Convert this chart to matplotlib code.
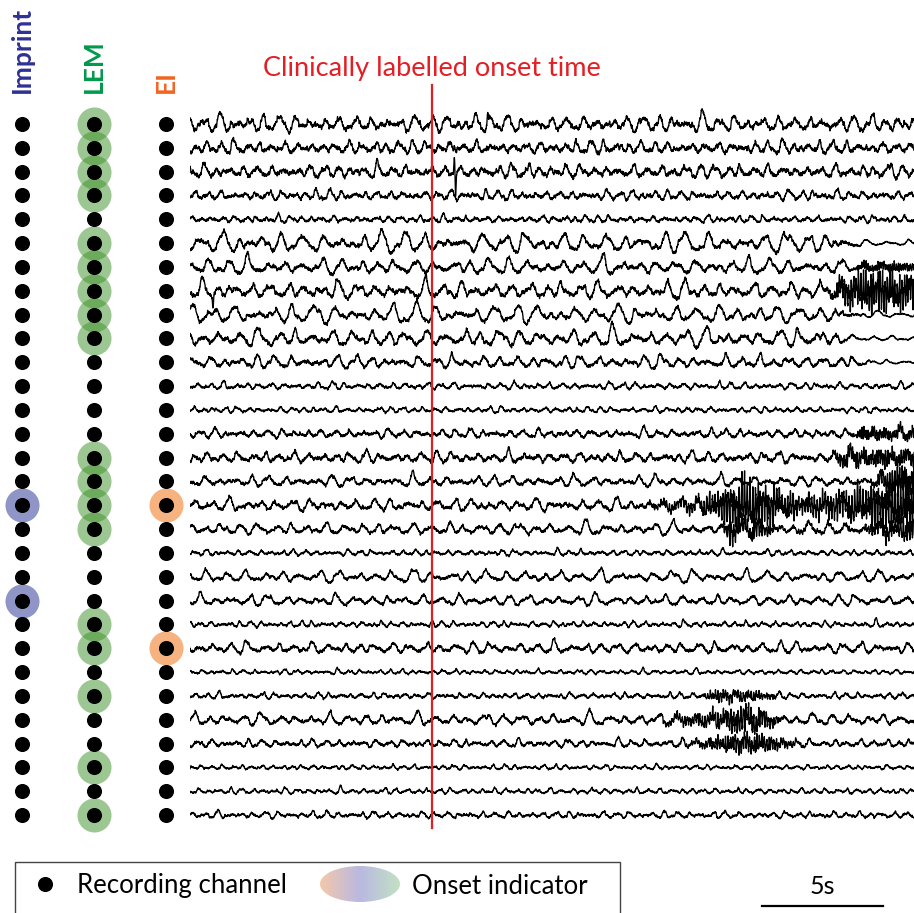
import numpy as np
import matplotlib
matplotlib.use("Agg")
import matplotlib.pyplot as plt
from matplotlib.patches import Ellipse, Rectangle

plt.rcParams['font.family'] = ['Lato', 'DejaVu Sans']

# ---------------- data ----------------
n_channels = 30
method_names = ["Imprint", "LEM", "EI"]
method_colors = ["#2e3192", "#00994a", "#f26522"]
imprint_onset = [16, 20]
lem_onset = [0, 1, 2, 3, 5, 6, 7, 8, 9, 14, 15, 16, 17, 21, 22, 24, 27, 29]
ei_onset = [16, 22]
onset_time = 10.0          # s, clinically labelled onset
duration = 30.0            # s
scale_bar_len = 5          # s
scale_bar_label = "5s"
title_text = "Clinically labelled onset time"
legend_labels = ["Recording channel", "Onset indicator"]

# per-channel background amplitude (row units, std), dominant freq (Hz), jaggedness
chan_amp = [0.17, 0.13, 0.13, 0.10, 0.07, 0.20, 0.16, 0.17, 0.19, 0.17,
            0.13, 0.07, 0.06, 0.09, 0.11, 0.11, 0.12, 0.12, 0.06, 0.12,
            0.11, 0.06, 0.11, 0.05, 0.06, 0.12, 0.08, 0.05, 0.06, 0.07]
chan_freq = [1.6, 1.9, 1.8, 2.0, 2.2, 1.2, 1.3, 1.4, 1.2, 1.3,
             1.5, 2.0, 2.2, 1.8, 1.7, 1.5, 1.5, 1.4, 2.2, 1.3,
             1.4, 2.4, 1.5, 2.3, 2.2, 1.4, 1.9, 2.4, 2.2, 2.0]
chan_jag = [0.25, 0.32, 0.32, 0.32, 0.35, 0.18, 0.22, 0.25, 0.18, 0.22,
            0.25, 0.32, 0.32, 0.32, 0.32, 0.28, 0.28, 0.25, 0.35, 0.22,
            0.25, 0.35, 0.28, 0.35, 0.35, 0.25, 0.32, 0.35, 0.32, 0.32]
# time at which slow background activity attenuates (0 = never)
chan_fade = [0, 0, 0, 0, 0, 26.9, 26.8, 0, 26.9, 26.6,
             27.3, 0, 0, 0, 0, 0, 0, 0, 0, 0,
             0, 0, 0, 0, 0, 0, 0, 0, 0, 0]

# ictal bursts: channel, frequency (Hz), envelope knots (s) and amplitudes (rows)
burst_channel = [16, 17, 15, 14, 13, 7, 6, 24, 25, 26]
burst_freq = [9.0, 9.0, 10.0, 11.0, 12.0, 10.0, 12.0, 9.5, 9.5, 10.0]
burst_env_t = [
    [18.5, 19.5, 21.0, 22.0, 22.8, 24.0, 25.2, 27.0, 29.0, 30.0],
    [21.8, 22.4, 23.5, 24.2, 27.8, 28.8, 30.0],
    [28.0, 28.8, 30.0],
    [26.3, 27.0, 30.0],
    [27.2, 27.8, 30.0],
    [26.3, 27.0, 28.0, 30.0],
    [27.3, 27.9, 30.0],
    [21.0, 21.8, 23.0, 24.3, 24.8],
    [19.0, 20.0, 21.5, 22.6, 23.8, 24.6],
    [20.0, 21.0, 22.3, 23.5, 24.8, 25.5],
]
burst_env_a = [
    [0.0, 0.12, 0.2, 0.55, 0.85, 0.6, 0.3, 0.45, 0.8, 0.9],
    [0.0, 0.35, 0.3, 0.05, 0.05, 0.3, 0.35],
    [0.0, 0.35, 0.45],
    [0.0, 0.25, 0.25],
    [0.0, 0.18, 0.18],
    [0.0, 0.45, 0.6, 0.6],
    [0.0, 0.14, 0.14],
    [0.0, 0.2, 0.2, 0.05, 0.0],
    [0.0, 0.1, 0.25, 0.42, 0.28, 0.0],
    [0.0, 0.08, 0.26, 0.28, 0.12, 0.0],
]
# transient spikes: channel, time (s), amplitude (rows, + = up)
spike_channel = [2, 2, 1, 7, 0]
spike_time = [10.93, 10.97, 10.93, 0.95, 12.3]
spike_amp = [0.8, -1.15, 0.25, -0.45, 0.3]

# ---------------- signal synthesis ----------------
fs = 250
t = np.arange(0, duration, 1.0 / fs)
LOW_MULT = [0.53, 0.79, 1.0, 1.41, 1.93, 2.71, 3.6]
LOW_W = [0.3, 0.55, 1.0, 0.5, 0.35, 0.2, 0.12]
HF_FREQS = [7.3, 9.7, 12.9, 16.1, 21.7, 27.3, 33.1, 41.9, 53.3]


def frac(x):
    return x - np.floor(x)


def hf_noise(i, shift):
    h = np.zeros_like(t)
    for k, f in enumerate(HF_FREQS):
        ph = 2 * np.pi * frac(0.7548776662 * (i + 1 + shift) * (k + 1) + 0.5698 * k * k)
        h += np.sin(2 * np.pi * f * (1 + 0.013 * ((i + shift) % 7)) * t + ph) / (1 + 0.08 * k)
    return h / h.std()


def channel_signal(i):
    f0 = chan_freq[i]
    s = np.zeros_like(t)
    for k, (m, w) in enumerate(zip(LOW_MULT, LOW_W)):
        ph = 2 * np.pi * frac(0.6180339887 * (i + 1) * (k + 2) + 0.7071 * k * k)
        s += w * np.sin(2 * np.pi * f0 * m * t + ph)
    s *= 1 + 0.25 * np.sin(2 * np.pi * (0.11 + 0.013 * i) * t + i)
    s = s / s.std()
    s = s + 0.1 * s ** 2
    s = s - s.mean()
    sig = s + chan_jag[i] * hf_noise(i, 0)
    if chan_fade[i] > 0:
        env = np.clip(1 - (t - chan_fade[i]) / 1.5, 0.3, 1.0)
        sig = sig * env
    sig = sig / sig[: int(fs * 20)].std() * chan_amp[i]
    for ch, f, kt, ka in zip(burst_channel, burst_freq, burst_env_t, burst_env_a):
        if ch == i:
            env = np.interp(t, kt, ka, left=0.0, right=ka[-1])
            b = (0.75 * np.sin(2 * np.pi * f * t) +
                 0.3 * np.sin(2 * np.pi * 1.93 * f * t + 1.0) +
                 0.3 * hf_noise(i, 11))
            sig = sig + env * b
    for ch, ts, a in zip(spike_channel, spike_time, spike_amp):
        if ch == i:
            sig = sig + a * np.exp(-0.5 * ((t - ts) / 0.02) ** 2)
    return sig


# ---------------- figure layout ----------------
W, H = 914, 913
fig = plt.figure(figsize=(W / 100, H / 100), dpi=100)
row0_px, row_step_px = 124.0, 23.83
ylim = ((H - row0_px) / row_step_px, -row0_px / row_step_px)
trace_x0_px = 190.0
px_per_s = 24.2

# indicator columns
ax_l = fig.add_axes([0, 0, trace_x0_px / W, 1])
col_px = [22, 94, 166]
col_step = 72.0
ax_l.set_xlim(-col_px[0] / col_step, (trace_x0_px - col_px[0]) / col_step)
ax_l.set_ylim(*ylim)
ax_l.axis("off")
rows = np.arange(n_channels)
onsets = [imprint_onset, lem_onset, ei_onset]
halo_colors = [(0.56, 0.59, 0.78, 1.0), (0.23, 0.57, 0.15, 0.5), (0.965, 0.70, 0.50, 1.0)]
for c, (name, col, ons, hc) in enumerate(zip(method_names, method_colors, onsets, halo_colors)):
    ax_l.scatter(np.full(len(ons), c), ons, s=600, color=hc, lw=0, zorder=1, clip_on=False)
    ax_l.scatter(np.full(n_channels, c), rows, s=118, color="black", lw=0, zorder=2, clip_on=False)
    ax_l.text(c, (93 - row0_px) / row_step_px, name, rotation=90, ha="center", va="bottom",
              color=col, fontsize=19, fontweight="bold")

# traces
ax_t = fig.add_axes([trace_x0_px / W, 0, 1 - trace_x0_px / W, 1])
ax_t.set_xlim(0, (W - trace_x0_px) / px_per_s)
ax_t.set_ylim(*ylim)
ax_t.axis("off")
for i in range(n_channels):
    ax_t.plot(t, i - channel_signal(i), color="black", lw=0.95, zorder=2)

red = "#e31e24"
ax_t.plot([onset_time, onset_time], [(85 - row0_px) / row_step_px, (828 - row0_px) / row_step_px],
          color=red, lw=1.6, zorder=3)
ax_t.text(onset_time, (68 - row0_px) / row_step_px, title_text, ha="center", va="center",
          color=red, fontsize=19.5)

# scale bar
sb_x0 = (762 - trace_x0_px) / px_per_s
ax_t.plot([sb_x0, sb_x0 + scale_bar_len], [(906 - row0_px) / row_step_px] * 2,
          color="black", lw=1.6, clip_on=False)
ax_t.text(sb_x0 + scale_bar_len / 2, (886 - row0_px) / row_step_px, scale_bar_label,
          ha="center", va="center", fontsize=18)

# legend (pixel-space overlay)
ax_g = fig.add_axes([0, 0, 1, 1], zorder=-1)
ax_g.set_xlim(0, W)
ax_g.set_ylim(H, 0)
ax_g.axis("off")
ax_g.add_patch(Rectangle((15, 862), 605, 60, fill=False, edgecolor="#444444", lw=1.0))
ax_g.scatter([45], [884], s=118, color="black", lw=0)
ax_g.text(77, 886, legend_labels[0], ha="left", va="center", fontsize=18.5)
grad_cols = np.array([[244, 200, 170], [185, 185, 225], [195, 225, 195]]) / 255.0
xs = np.linspace(0, 1, 200)
grad = np.stack([np.interp(xs, [0, 0.5, 1], grad_cols[:, k]) for k in range(3)], axis=-1)
grad = np.repeat(grad[None, :, :], 10, axis=0)
ell = Ellipse((360, 884), 80, 36, transform=ax_g.transData, facecolor="none", edgecolor="none")
ax_g.add_patch(ell)
im = ax_g.imshow(grad, extent=[320, 400, 902, 866], aspect="auto", interpolation="bilinear")
im.set_clip_path(ell)
ax_g.set_xlim(0, W)
ax_g.set_ylim(H, 0)
ax_g.text(412, 886, legend_labels[1], ha="left", va="center", fontsize=18.5)

fig.savefig("out.png", dpi=100)
